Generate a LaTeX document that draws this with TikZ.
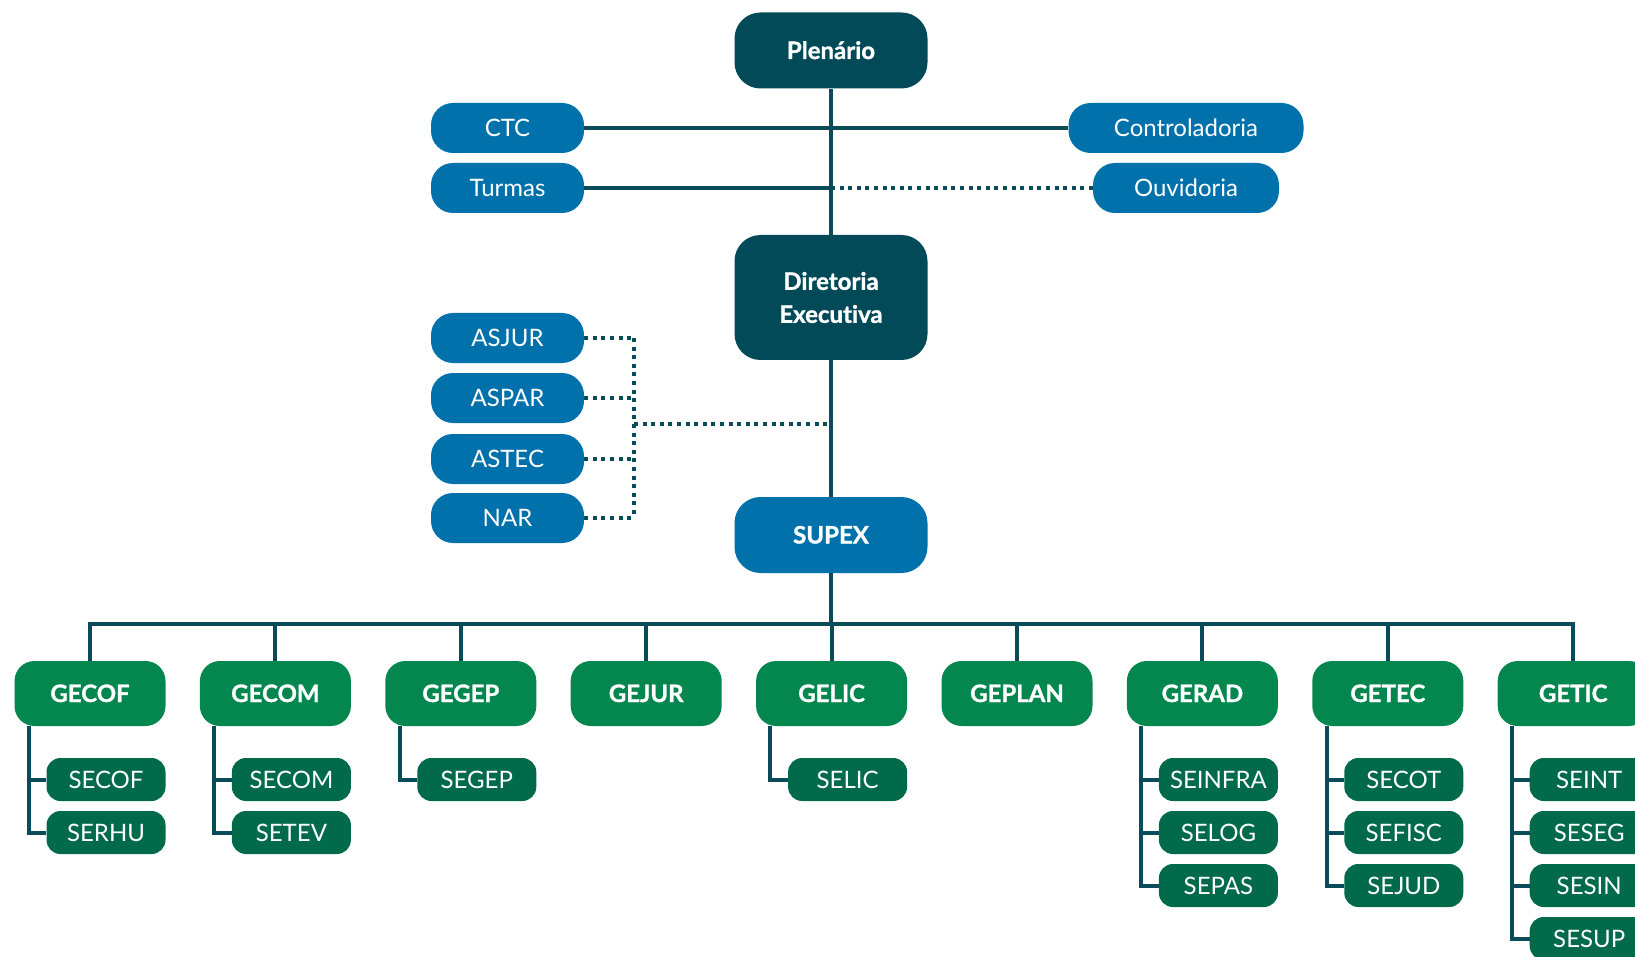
\documentclass[tikz,border=0pt]{standalone}
\usepackage{fontspec}
\setmainfont[Ligatures=NoCommon, BoldFeatures={FakeBold=1.2}]{Lato}

\definecolor{dteal}{HTML}{034A59}
\definecolor{lteal}{HTML}{0A4B5A}
\definecolor{mblue}{HTML}{0071AA}
\definecolor{ggreen}{HTML}{03874F}
\definecolor{sgreen}{HTML}{006A4B}

\begin{document}
\begin{tikzpicture}[x=1pt, y=-1pt,
  top/.style={rectangle, fill=dteal, text=white, inner sep=0pt, minimum width=193pt,
    rounded corners=26pt, align=center, font=\bfseries\fontsize{24}{33}\selectfont},
  side/.style={rectangle, fill=mblue, text=white, inner sep=0pt, minimum width=153pt,
    minimum height=50pt, rounded corners=22pt, text height=17pt, text depth=-3pt,
    font=\fontsize{24}{28}\selectfont},
  ger/.style={rectangle, fill=ggreen, text=white, inner sep=0pt, minimum width=151pt,
    minimum height=65pt, rounded corners=20pt, text height=17pt, text depth=-3pt,
    font=\bfseries\fontsize{24}{28}\selectfont},
  sec/.style={rectangle, fill=sgreen, text=white, inner sep=0pt, minimum width=119pt,
    minimum height=43pt, rounded corners=14pt, text height=17pt, text depth=-3pt,
    font=\fontsize{24}{28}\selectfont},
  link/.style={draw=lteal, line width=4pt},
  dots/.style={link, dash pattern=on 4pt off 4.6pt}]

  \useasboundingbox (0,0) rectangle (1635,957);

  \node[top, minimum height=76pt, text height=17pt, text depth=-3pt] (plen) at (831,50.5) {Plenário};
  \node[side] (ctc) at (507.5,128) {CTC};
  \node[side] (turmas) at (507.5,188) {Turmas};
  \node[side, minimum width=235pt] (contr) at (1186,128) {Controladoria};
  \node[side, minimum width=186pt] (ouvid) at (1186,188) {Ouvidoria};
  \node[top, minimum height=125pt] (direx) at (831,297.5) {Diretoria\\Execu{}tiva};

  \node[side] (asjur) at (507.5,338) {ASJUR};
  \node[side] (aspar) at (507.5,398) {ASPAR};
  \node[side] (astec) at (507.5,459) {ASTEC};
  \node[side] (nar) at (507.5,518) {NAR};
  \node[top, fill=mblue, minimum height=76pt, text height=17pt, text depth=-3pt] (supex) at (831,535) {SUPEX};

  \coordinate (asx) at (634,424);
  \coordinate (bus) at (831,623.5);

  \draw[link] (plen) -- (direx);
  \draw[link] (direx) -- (supex);
  \draw[link] (ctc.east) -- (contr.west);
  \draw[link] (turmas.east) -- (turmas.east -| plen.south);
  \draw[dots] (turmas.east -| plen.south) -- (ouvid.west);

  \draw[dots] (asjur.east) -- (asjur.east -| asx);
  \draw[dots] (aspar.east) -- (aspar.east -| asx);
  \draw[dots] (astec.east) -- (astec.east -| asx);
  \draw[dots] (nar.east) -- (nar.east -| asx);
  \draw[dots] (asjur.east -| asx) -- (nar.east -| asx);
  \draw[dots] (asx) -- (asx -| direx.south);

  \foreach \nm [count=\i from 0] in {GECOF,GECOM,GEGEP,GEJUR,GELIC,GEPLAN,GERAD,GETEC,GETIC}
    \node[ger] (\nm) at (90+185.4*\i,693.5) {\nm};

  \draw[link] (supex) -- (bus);
  \draw[link, line cap=rect] (GECOF.north |- bus) -- (GETIC.north |- bus);
  \foreach \nm in {GECOF,GECOM,GEGEP,GEJUR,GELIC,GEPLAN,GERAD,GETEC,GETIC}
    \draw[link] (\nm.north |- bus) -- (\nm.north);

  \foreach \g/\subs in {GECOF/{SECOF,SERHU}, GECOM/{SECOM,SETEV}, GEGEP/{SEGEP},
      GELIC/{SELIC}, GERAD/{SEINFRA,SELOG,SEPAS}, GETEC/{SECOT,SEFISC,SEJUD},
      GETIC/{SEINT,SESEG,SESIN,SESUP}}
    \foreach \s [count=\j] in \subs {
      \pgfmathsetmacro\yy{726.5+53*\j}
      \node[sec, anchor=east] (\s) at (\g.east |- 0,\yy) {\s};
      \draw[link] ([xshift=14.5pt]\g.south west) |- (\s.west);
    }
\end{tikzpicture}
\end{document}
